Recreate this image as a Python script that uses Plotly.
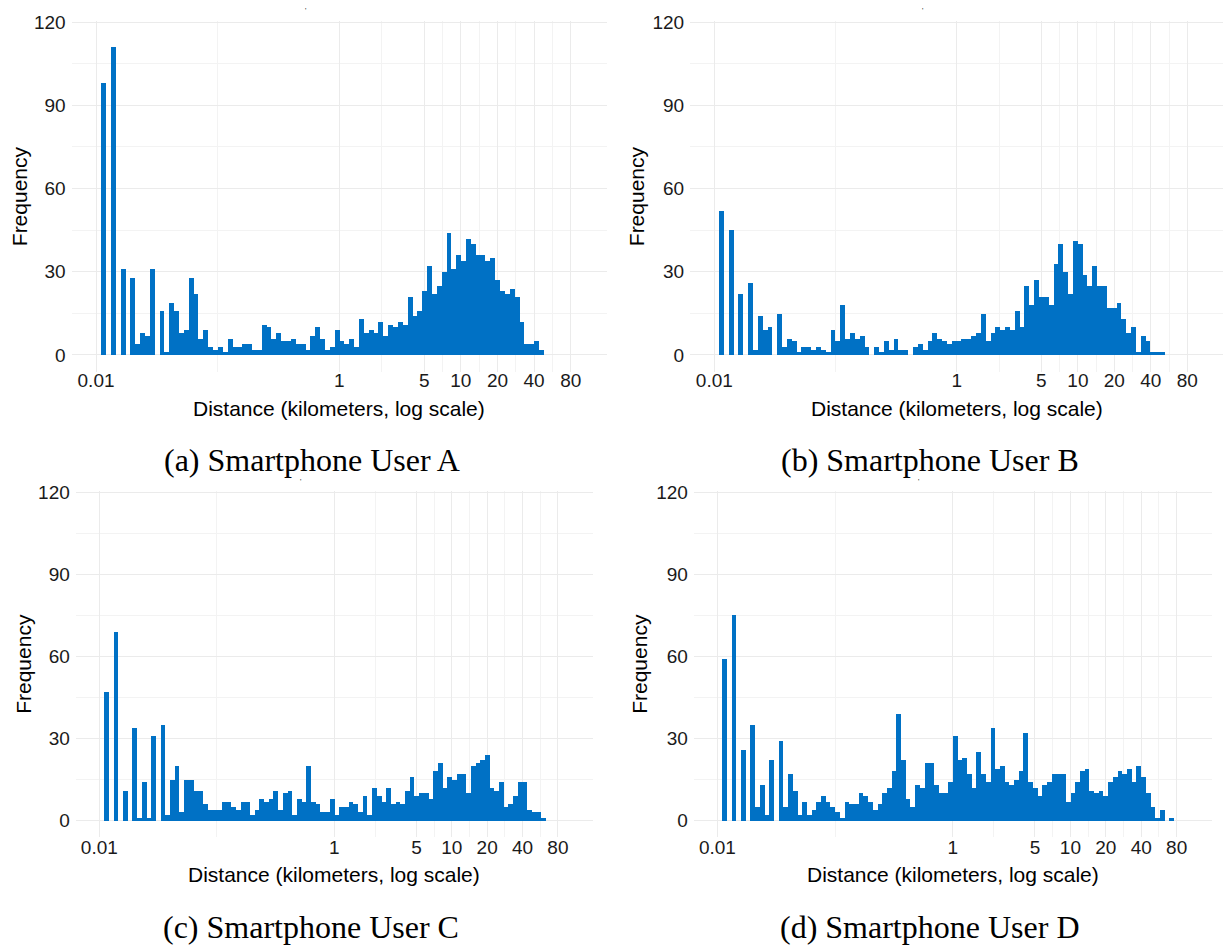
import numpy as np
import plotly.graph_objects as go

# Histogram bins on log10(distance in km): left edge of first bin and bin width
bin_start = -1.96
bin_width = 0.04

# Trip counts per bin for each user
counts_a = [98, 0, 111, 0, 31, 0, 28, 4, 8, 7, 31, 0, 16, 1, 19, 16, 8, 9, 28, 22,
            6, 9, 3, 2, 3, 1, 6, 3, 3, 4, 4, 2, 2, 11, 10, 6, 8, 5, 5, 6,
            4, 4, 2, 7, 10, 6, 2, 3, 9, 5, 4, 6, 3, 13, 8, 9, 8, 12, 7, 11,
            10, 12, 11, 21, 14, 16, 23, 32, 22, 25, 30, 44, 31, 36, 34, 42, 40, 36, 36, 34,
            35, 27, 23, 22, 24, 21, 12, 4, 4, 5, 2]
counts_b = [52, 0, 45, 0, 22, 0, 26, 2, 14, 9, 10, 0, 15, 3, 6, 5, 1, 3, 3, 2,
            3, 2, 1, 9, 5, 18, 6, 8, 6, 7, 3, 0, 3, 1, 5, 2, 6, 2, 2, 0,
            3, 4, 2, 5, 8, 6, 5, 4, 5, 5, 6, 6, 7, 8, 15, 5, 8, 10, 9, 10,
            9, 16, 10, 25, 18, 27, 21, 21, 18, 33, 40, 30, 22, 41, 40, 29, 25, 32, 25, 25,
            17, 17, 19, 13, 8, 10, 1, 7, 5, 1, 1, 1]
counts_c = [47, 0, 69, 0, 11, 0, 34, 1, 14, 1, 31, 0, 35, 2, 15, 20, 3, 15, 15, 11,
            11, 6, 4, 4, 4, 7, 7, 5, 4, 7, 7, 2, 4, 8, 7, 8, 11, 4, 10, 11,
            2, 8, 7, 20, 7, 6, 3, 3, 8, 2, 5, 5, 7, 6, 3, 9, 2, 12, 9, 7,
            12, 6, 7, 6, 11, 16, 9, 10, 10, 8, 18, 21, 12, 16, 15, 17, 17, 10, 20, 21,
            22, 24, 12, 11, 14, 5, 6, 9, 14, 14, 4, 3, 3, 1]
counts_d = [59, 0, 75, 0, 26, 0, 35, 5, 13, 2, 22, 0, 29, 5, 17, 11, 2, 7, 2, 4,
            7, 9, 7, 5, 3, 1, 7, 6, 6, 10, 9, 7, 4, 6, 10, 12, 18, 39, 22, 8,
            5, 13, 12, 21, 21, 13, 10, 10, 14, 31, 22, 23, 17, 12, 25, 17, 14, 34, 19, 20,
            14, 13, 15, 18, 32, 14, 12, 9, 13, 14, 17, 17, 17, 7, 10, 14, 18, 19, 11, 10,
            11, 9, 14, 16, 18, 17, 19, 14, 20, 16, 10, 5, 1, 4, 0, 1]

captions = ["(a) Smartphone User A", "(b) Smartphone User B",
            "(c) Smartphone User C", "(d) Smartphone User D"]

# Axis breaks
tick_km = [0.01, 1, 5, 10, 20, 40, 80]
tick_text = ["0.01", "1", "5", "10", "20", "40", "80"]
y_ticks = [0, 30, 60, 90, 120]

W, H = 1227, 946
BAR_COLOR = "#0071C5"
GRID = "#EBEBEB"
GRID_MINOR = "#F3F3F3"
SANS = "Liberation Sans, Arial, sans-serif"
SERIF = "Liberation Serif, Times New Roman, serif"

x_range = [-2.2, 2.2]
y_range = [-6.0, 120.5]

# panel boxes in pixels: (left, right, top, bottom)
panels = [
    (71.7, 606.8, 11.9, 366.1),
    (690.1, 1223.3, 11.9, 366.1),
    (75.8, 592.8, 486.4, 835.8),
    (693.9, 1211.6, 486.4, 835.8),
]
x_label_shift = [-5, -5, -3, -3]
x_title_y = [403, 403, 874, 874]
caption_y = [455, 455, 927, 927]
freq_x = [19, 636, 24, 640]
caption_x = [312, 930, 311, 929]
mark_xy = [(305.7, 2), (922, 2), (300, 477), (918, 477)]

all_counts = [counts_a, counts_b, counts_c, counts_d]

# minor grid halfway (in log space) between consecutive breaks
log_ticks = np.log10(tick_km)
minor_vals = list((log_ticks[:-1] + log_ticks[1:]) / 2)

fig = go.Figure()
annotations = []

for i, (counts, (l, r, t, b)) in enumerate(zip(all_counts, panels)):
    n = i + 1
    xa = "x" if n == 1 else f"x{n}"
    ya = "y" if n == 1 else f"y{n}"
    counts = np.asarray(counts)
    centers = bin_start + bin_width * (np.arange(len(counts)) + 0.5)
    keep = counts > 0
    fig.add_trace(go.Bar(
        x=centers[keep], y=counts[keep], width=bin_width,
        marker=dict(color=BAR_COLOR, line=dict(width=0)),
        xaxis=xa, yaxis=ya, showlegend=False, hoverinfo="x+y",
    ))

    xkey = "xaxis" if n == 1 else f"xaxis{n}"
    ykey = "yaxis" if n == 1 else f"yaxis{n}"
    fig.layout[xkey] = dict(
        domain=[l / W, r / W], range=x_range, anchor=ya,
        tickmode="array", tickvals=list(log_ticks), ticktext=tick_text,
        showgrid=True, gridcolor=GRID, gridwidth=1.2,
        minor=dict(tickmode="array", tickvals=minor_vals, showgrid=True,
                   gridcolor=GRID_MINOR, gridwidth=1),
        zeroline=False, showline=False, ticks="", ticklabelstandoff=x_label_shift[i],
        tickfont=dict(family=SANS, size=19, color="#1a1a1a"),
        fixedrange=True,
    )
    fig.layout[ykey] = dict(
        domain=[1 - b / H, 1 - t / H], range=y_range, anchor=xa,
        tickmode="array", tickvals=y_ticks,
        showgrid=True, gridcolor=GRID, gridwidth=1.2,
        minor=dict(dtick=15, tick0=0, showgrid=True, gridcolor=GRID_MINOR, gridwidth=1),
        zeroline=False, showline=False, ticks="", ticklabelstandoff=5,
        tickfont=dict(family=SANS, size=19, color="#1a1a1a"),
        fixedrange=True,
    )

    cx = (l + r) / 2
    annotations.append(dict(
        text="Distance (kilometers, log scale)", x=cx / W, y=1 - x_title_y[i] / H,
        xref="paper", yref="paper", xanchor="center", yanchor="middle", showarrow=False,
        font=dict(family=SANS, size=21, color="#000000"),
    ))
    annotations.append(dict(
        text="Frequency", x=freq_x[i] / W, y=1 - (t + b) / 2 / H, textangle=-90,
        xref="paper", yref="paper", xanchor="center", yanchor="middle", showarrow=False,
        font=dict(family=SANS, size=21, color="#000000"),
    ))
    annotations.append(dict(
        text=captions[i], x=caption_x[i] / W, y=1 - caption_y[i] / H,
        xref="paper", yref="paper", xanchor="center", yanchor="middle", showarrow=False,
        font=dict(family=SERIF, size=32, color="#000000"),
    ))
    mx, my = mark_xy[i]
    annotations.append(dict(
        text="'", x=mx / W, y=1 - my / H,
        xref="paper", yref="paper", xanchor="center", yanchor="middle", showarrow=False,
        font=dict(family=SANS, size=7, color="#000000"),
    ))

fig.update_layout(
    width=W, height=H,
    margin=dict(l=0, r=0, t=0, b=0),
    paper_bgcolor="white", plot_bgcolor="white",
    bargap=0, annotations=annotations,
)

fig.write_html("out.html")
